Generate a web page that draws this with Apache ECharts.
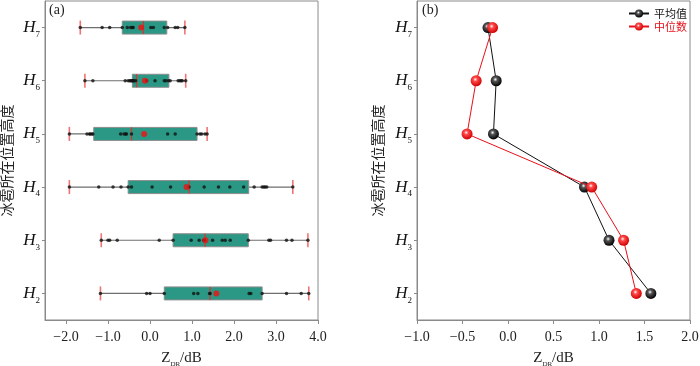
<!DOCTYPE html>
<html>
<head>
<meta charset="utf-8">
<script src="https://cdn.jsdelivr.net/npm/echarts@6/dist/echarts.min.js"></script>
<style>html,body{margin:0;padding:0;background:#fff;}#c{width:700px;height:366px;}</style>
</head>
<body>
<div id="c"></div>
<script>
// ---- data ----
const heightLevels = ['H2', 'H3', 'H4', 'H5', 'H6', 'H7'];
const xTicksA = [-2, -1, 0, 1, 2, 3, 4];
const xTicksB = [-1, -0.5, 0, 0.5, 1, 1.5, 2];

const whiskerLow  = [-1.18, -1.16, -1.92, -1.92, -1.55, -1.66];
const boxQ1       = [0.34, 0.55, -0.52, -1.34, -0.42, -0.66];
const boxMedian   = [1.43, 1.31, 0.93, -0.44, -0.32, -0.16];
const boxQ3       = [2.67, 2.34, 2.35, 1.12, 0.45, 0.40];
const whiskerHigh = [3.78, 3.76, 3.40, 1.36, 0.85, 0.83];
const boxMean     = [1.58, 1.32, 0.87, -0.14, -0.12, -0.21];

const pointsH2 = [-1.18, -0.08, 0.00, 0.34, 1.04, 1.14, 1.42, 1.43, 2.36, 2.40, 2.67, 3.25, 3.60, 3.78];
const pointsH3 = [-1.16, -1.00, -0.96, -0.78, 0.22, 0.55, 0.98, 1.17, 1.28, 1.30, 1.49, 1.72, 1.79, 1.91, 2.34, 2.83, 2.87, 3.25, 3.38, 3.76];
const pointsH4 = [-1.92, -1.22, -0.88, -0.69, -0.52, -0.44, 0.05, 0.49, 0.93, 1.29, 1.63, 1.90, 2.23, 2.48, 2.67, 2.71, 2.74, 2.78, 3.40];
const pointsH5 = [-1.92, -1.50, -1.44, -1.42, -1.38, -1.36, -0.70, -0.62, -0.58, -0.56, -0.44, 0.42, 0.60, 1.12, 1.19, 1.23, 1.31, 1.36];
const pointsH6 = [-1.55, -1.36, -0.59, -0.52, -0.48, -0.46, -0.43, -0.42, -0.40, -0.38, -0.34, -0.08, 0.12, 0.34, 0.38, 0.44, 0.48, 0.67, 0.71, 0.74, 0.77, 0.85];
const pointsH7 = [-1.66, -1.14, -0.96, -0.66, -0.54, -0.46, -0.42, -0.40, 0.02, 0.08, 0.34, 0.42, 0.60, 0.66, 0.83];

const meanValues   = [1.57, 1.11, 0.84, -0.16, -0.13, -0.22];
const medianValues = [1.41, 1.27, 0.92, -0.45, -0.35, -0.17];

// ---- build ----
const serif = "Liberation Serif";
const cjk = "Noto Sans CJK SC";
const allPoints = [pointsH2, pointsH3, pointsH4, pointsH5, pointsH6, pointsH7];
const dotData = [];
allPoints.forEach((arr, i) => arr.forEach(v => dotData.push([v, i])));
const boxData = heightLevels.map((_, i) => [i, whiskerLow[i], boxQ1[i], boxMedian[i], boxQ3[i], whiskerHigh[i]]);
const meanDotData = boxMean.map((v, i) => [v, i]);

function yLabelFmt(v) { return '{h|H}{s|' + v.slice(1) + '}'; }
const yRich = {
  h: {fontFamily: serif, fontStyle: 'italic', fontSize: 17, color: '#111', verticalAlign: 'bottom', lineHeight: 17},
  s: {fontFamily: serif, fontSize: 9, color: '#111', verticalAlign: 'bottom', lineHeight: 9, padding: [0, 0, -3, 0]}
};
const xName = '{z|Z}{s|DR}{t|/dB}';
const xNameRich = {
  z: {fontFamily: serif, fontSize: 15, color: '#222', verticalAlign: 'bottom', lineHeight: 15},
  s: {fontFamily: serif, fontSize: 7, color: '#222', verticalAlign: 'bottom', lineHeight: 7, padding: [0, 0, -2, 0]},
  t: {fontFamily: serif, fontSize: 15, color: '#222', verticalAlign: 'bottom', lineHeight: 15}
};
const axisGray = '#8a8a8a';

function xAxisCfg(gi, min, max, ticks, dec) {
  return {
    type: 'value', gridIndex: gi, min: min, max: max,
    name: xName, nameLocation: 'middle', nameGap: 31, nameMoveOverlap: false,
    nameTextStyle: {rich: xNameRich},
    axisLine: {show: true, onZero: false, lineStyle: {color: axisGray}},
    axisTick: {show: true, inside: false, length: 4, lineStyle: {color: axisGray}, customValues: ticks},
    axisLabel: {customValues: ticks, fontFamily: serif, fontSize: 14, color: '#222', margin: 10,
      formatter: v => (v < 0 ? '\u2212' : '') + Math.abs(v).toFixed(dec)},
    splitLine: {show: false}
  };
}
function yAxisCfg(gi, gap) {
  return {
    type: 'category', gridIndex: gi, data: heightLevels,
    name: '冰雹所在位置高度', nameLocation: 'middle', nameRotate: 90, nameGap: gap, nameMoveOverlap: false,
    nameTextStyle: {fontFamily: cjk, fontSize: 14, color: '#222'},
    axisLine: {show: true, onZero: false, lineStyle: {color: axisGray}},
    axisTick: {show: true, alignWithLabel: true, length: 3, lineStyle: {color: axisGray}},
    axisLabel: {formatter: yLabelFmt, rich: yRich, margin: 5},
    splitLine: {show: false}
  };
}
function sphere(base, mid) {
  return {type: 'radial', x: 0.42, y: 0.38, r: 0.62,
    colorStops: [{offset: 0, color: '#ffffff'}, {offset: 0.3, color: mid}, {offset: 1, color: base}]};
}

const option = {
  animation: false,
  backgroundColor: '#fff',
  textStyle: {fontFamily: serif},
  grid: [
    {left: 45, top: 1, width: 273, height: 319, show: true, borderColor: axisGray, borderWidth: 1,
      containLabel: false, outerBoundsMode: 'none'},
    {left: 417, top: 1, width: 273, height: 319, show: true, borderColor: axisGray, borderWidth: 1,
      containLabel: false, outerBoundsMode: 'none'}
  ],
  xAxis: [xAxisCfg(0, -2.5, 4, xTicksA, 1), xAxisCfg(1, -1, 2, xTicksB, 1)],
  yAxis: [yAxisCfg(0, 31), yAxisCfg(1, 32)],
  legend: {
    right: 8, top: 3, orient: 'vertical', itemGap: 2, itemWidth: 20, itemHeight: 10,
    textStyle: {fontFamily: cjk, fontSize: 11},
    data: [{name: '平均值', textStyle: {color: '#111'}}, {name: '中位数', textStyle: {color: '#e8101a'}}]
  },
  graphic: [
    {type: 'text', left: 49, top: 3, style: {text: '(a)', font: "14px 'Liberation Serif', serif", fill: '#222'}},
    {type: 'text', left: 422, top: 3, style: {text: '(b)', font: "14px 'Liberation Serif', serif", fill: '#222'}}
  ],
  series: [
    {
      type: 'custom', xAxisIndex: 0, yAxisIndex: 0, z: 2,
      encode: {x: [1, 2, 3, 4, 5], y: 0},
      data: boxData,
      renderItem: function (params, api) {
        const c = api.value(0);
        const pLo = api.coord([api.value(1), c]);
        const pQ1 = api.coord([api.value(2), c]);
        const pMd = api.coord([api.value(3), c]);
        const pQ3 = api.coord([api.value(4), c]);
        const pHi = api.coord([api.value(5), c]);
        const y = pLo[1], bh = 13, ch = 14;
        return {type: 'group', children: [
          {type: 'line', shape: {x1: pLo[0], y1: y, x2: pHi[0], y2: y}, style: {stroke: '#6e6e6e', lineWidth: 1.2}},
          {type: 'rect', shape: {x: pQ1[0], y: y - bh / 2, width: pQ3[0] - pQ1[0], height: bh},
            style: {fill: '#2a9884', stroke: '#8c8c8c', lineWidth: 1}},
          {type: 'line', shape: {x1: pMd[0], y1: y - bh / 2, x2: pMd[0], y2: y + bh / 2}, style: {stroke: '#e0302a', lineWidth: 1.2}},
          {type: 'line', shape: {x1: pLo[0], y1: y - ch / 2, x2: pLo[0], y2: y + ch / 2}, style: {stroke: 'rgba(235,70,70,0.75)', lineWidth: 1.6}},
          {type: 'line', shape: {x1: pHi[0], y1: y - ch / 2, x2: pHi[0], y2: y + ch / 2}, style: {stroke: 'rgba(235,70,70,0.75)', lineWidth: 1.6}}
        ]};
      }
    },
    {
      type: 'scatter', xAxisIndex: 0, yAxisIndex: 0, z: 3,
      symbol: 'circle', symbolSize: 3.5, itemStyle: {color: '#111'},
      data: dotData
    },
    {
      type: 'scatter', xAxisIndex: 0, yAxisIndex: 0, z: 4,
      symbol: 'circle', symbolSize: 6, itemStyle: {color: '#ee1111'},
      data: meanDotData
    },
    {
      name: '平均值', type: 'line', xAxisIndex: 1, yAxisIndex: 1, z: 3,
      data: meanValues.map((v, i) => [v, i]),
      lineStyle: {color: '#111', width: 1},
      symbol: 'circle', symbolSize: 11,
      itemStyle: {color: sphere('#000000', '#555555'), borderWidth: 0}
    },
    {
      name: '中位数', type: 'line', xAxisIndex: 1, yAxisIndex: 1, z: 4,
      data: medianValues.map((v, i) => [v, i]),
      lineStyle: {color: '#e8101a', width: 1},
      symbol: 'circle', symbolSize: 11,
      itemStyle: {color: sphere('#d00000', '#ff4a4a'), borderWidth: 0}
    }
  ]
};
const chart = echarts.init(document.getElementById('c'), null, {renderer: 'canvas'});
chart.setOption(option);
</script>
</body>
</html>
